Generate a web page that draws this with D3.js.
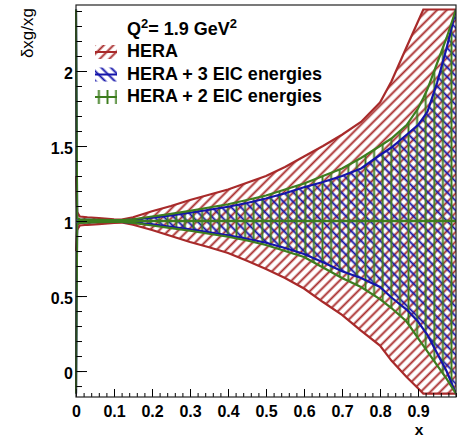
<!DOCTYPE html>
<html><head><meta charset="utf-8">
<script src="https://cdn.jsdelivr.net/npm/d3@7"></script>
<style>
body{margin:0;background:#fff}
svg{display:block}
text{font-family:"Liberation Sans",Arial,Helvetica,sans-serif;font-weight:bold;fill:#000}
</style>
</head><body>
<svg id="chart" width="461" height="438"></svg>
<script>
// ---- data ----
const xVals  = [0, 0.003, 0.01, 0.03, 0.06, 0.1, 0.12, 0.15, 0.2, 0.25, 0.3, 0.35, 0.4, 0.45, 0.5, 0.55, 0.6, 0.65, 0.7, 0.75, 0.8, 0.83, 0.87, 0.9, 0.914, 0.925, 0.95, 0.975, 1.0];
const heraUp = [1.3, 1.06, 1.03, 1.025, 1.02, 1.012, 1.01, 1.025, 1.065, 1.10, 1.14, 1.175, 1.21, 1.255, 1.30, 1.36, 1.43, 1.50, 1.575, 1.66, 1.79, 1.93, 2.16, 2.33, 2.41, 2.41, 2.41, 2.41, 2.41];
const heraLo = [0.8, 0.94, 0.97, 0.975, 0.98, 0.988, 0.99, 0.975, 0.94, 0.90, 0.86, 0.825, 0.787, 0.735, 0.68, 0.62, 0.55, 0.46, 0.375, 0.27, 0.17, 0.07, -0.04, -0.115, -0.15, -0.15, -0.15, -0.15, -0.15];
const eic3Up = [2.41, 1.015, 1.01, 1.008, 1.006, 1.005, 1.005, 1.01, 1.022, 1.038, 1.055, 1.075, 1.095, 1.12, 1.15, 1.185, 1.225, 1.26, 1.30, 1.35, 1.44, 1.49, 1.575, 1.64, 1.69, 1.73, 1.92, 2.15, 2.41];
const eic3Lo = [-0.15, 0.985, 0.99, 0.992, 0.994, 0.995, 0.995, 0.99, 0.978, 0.962, 0.945, 0.925, 0.905, 0.882, 0.855, 0.82, 0.78, 0.725, 0.665, 0.62, 0.56, 0.49, 0.41, 0.33, 0.28, 0.24, 0.12, 0.0, -0.15];
const eic2Up = [2.41, 1.02, 1.012, 1.01, 1.008, 1.006, 1.006, 1.012, 1.03, 1.048, 1.068, 1.09, 1.112, 1.14, 1.17, 1.21, 1.25, 1.30, 1.35, 1.42, 1.50, 1.55, 1.64, 1.75, 1.82, 1.88, 2.05, 2.22, 2.41];
const eic2Lo = [-0.15, 0.98, 0.988, 0.99, 0.992, 0.994, 0.994, 0.988, 0.97, 0.953, 0.935, 0.915, 0.895, 0.87, 0.84, 0.80, 0.76, 0.69, 0.62, 0.56, 0.48, 0.42, 0.33, 0.22, 0.17, 0.13, 0.04, -0.05, -0.15];
const centralValue = [1, 1];
const centralX = [0, 1];
const xTickVals = [0, 0.1, 0.2, 0.3, 0.4, 0.5, 0.6, 0.7, 0.8, 0.9];
const xTickLabels = ["0", "0.1", "0.2", "0.3", "0.4", "0.5", "0.6", "0.7", "0.8", "0.9"];
const yTickVals = [0, 0.5, 1, 1.5, 2];
const yTickLabels = ["0", "0.5", "1", "1.5", "2"];
const seriesNames = ["HERA", "HERA + 3 EIC energies", "HERA + 2 EIC energies"];
const xTitle = "x";
const yTitle = "δxg/xg";

// ---- layout ----
const L = 76, R = 456, T = 5, B = 397;
const svg = d3.select("#chart");
const x = d3.scaleLinear().domain([0, 1]).range([L, R]);
const y = d3.scaleLinear().domain([-0.173, 2.44]).range([B, T]);

const colors = {red: "#a82a2a", blue: "#1414aa", green: "#3d7d1e"};

const defs = svg.append("defs");
function hatch(id, color, angle, size, sw) {
  const p = defs.append("pattern").attr("id", id)
    .attr("patternUnits", "userSpaceOnUse")
    .attr("width", size).attr("height", size)
    .attr("patternTransform", `rotate(${angle})`);
  p.append("line").attr("x1", size / 2).attr("x2", size / 2)
    .attr("y1", -1).attr("y2", size + 1)
    .attr("stroke", color).attr("stroke-width", sw);
}
hatch("hRed", colors.red, 45, 6.8, 1.9);
hatch("hBlue", colors.blue, -45, 6.8, 1.9);
hatch("hGreen", colors.green, 0, 8.6, 1.9);

defs.append("clipPath").attr("id", "plotClip")
  .append("rect").attr("x", L - 1).attr("y", T).attr("width", R - L + 1).attr("height", B - T);

const plot = svg.append("g").attr("clip-path", "url(#plotClip)");

const bands = [
  {name: seriesNames[0], up: heraUp, lo: heraLo, color: colors.red, pat: "hRed"},
  {name: seriesNames[1], up: eic3Up, lo: eic3Lo, color: colors.blue, pat: "hBlue"},
  {name: seriesNames[2], up: eic2Up, lo: eic2Lo, color: colors.green, pat: "hGreen"}
];

const area = d3.area().x(d => x(d.x)).y0(d => y(d.lo)).y1(d => y(d.up));
const line = d3.line().x(d => x(d[0])).y(d => y(d[1]));

bands.forEach(b => {
  const pts = xVals.map((xv, i) => ({x: xv, up: b.up[i], lo: b.lo[i]}));
  plot.append("path").datum(pts).attr("d", area).attr("fill", `url(#${b.pat})`).attr("stroke", "none");
});
bands.forEach(b => {
  plot.append("path").datum(xVals.map((xv, i) => [xv, b.up[i]])).attr("d", line)
    .attr("fill", "none").attr("stroke", b.color).attr("stroke-width", 2.2);
  plot.append("path").datum(xVals.map((xv, i) => [xv, b.lo[i]])).attr("d", line)
    .attr("fill", "none").attr("stroke", b.color).attr("stroke-width", 2.2);
});
plot.append("path").datum(centralX.map((xv, i) => [xv, centralValue[i]])).attr("d", line)
  .attr("fill", "none").attr("stroke", colors.green).attr("stroke-width", 2.5);

// ---- axes ----
const xMinor = d3.range(0, 1.0001, 0.02);
const yMinor = d3.range(-0.1, 2.41, 0.1);

svg.append("g").attr("transform", `translate(0,${B})`)
  .call(d3.axisBottom(x).tickValues(xMinor).tickSize(-4).tickFormat(""))
  .call(g => { g.select(".domain").remove(); g.selectAll("line").attr("stroke", "#000"); });
svg.append("g").attr("transform", `translate(0,${B})`)
  .call(d3.axisBottom(x).tickValues(xTickVals).tickSize(-8).tickPadding(9)
    .tickFormat((d, i) => xTickLabels[i]))
  .call(g => {
    g.select(".domain").remove();
    g.selectAll("line").attr("stroke", "#000");
    g.selectAll("text").attr("font-size", 16).attr("font-family", null).style("font-weight", "bold");
  });

svg.append("g").attr("transform", `translate(${L},0)`)
  .call(d3.axisLeft(y).tickValues(yMinor).tickSize(-6).tickFormat(""))
  .call(g => { g.select(".domain").remove(); g.selectAll("line").attr("stroke", "#000"); });
svg.append("g").attr("transform", `translate(${L},0)`)
  .call(d3.axisLeft(y).tickValues(yTickVals).tickSize(-11).tickPadding(3)
    .tickFormat((d, i) => yTickLabels[i]))
  .call(g => {
    g.select(".domain").remove();
    g.selectAll("line").attr("stroke", "#000");
    g.selectAll("text").attr("font-size", 16).attr("font-family", null).attr("dy", "0.45em").style("font-weight", "bold");
  });

// frame
svg.append("rect").attr("x", L).attr("y", T).attr("width", R - L).attr("height", B - T)
  .attr("fill", "none").attr("stroke", "#222").attr("stroke-width", 1.2);

// axis titles
svg.append("text").attr("x", 419).attr("y", 434.5).attr("text-anchor", "middle")
  .attr("font-size", 15.5).text(xTitle);
svg.append("text").attr("transform", "translate(33,8) rotate(-90)").attr("text-anchor", "end")
  .attr("font-size", 17).style("font-weight", "normal").text(yTitle);

// ---- legend ----
const qt = svg.append("text").attr("x", 127).attr("y", 35).attr("font-size", 18);
qt.append("tspan").text("Q");
qt.append("tspan").attr("dy", -7).attr("font-size", 13).text("2");
qt.append("tspan").attr("dy", 7).text("= 1.9 GeV");
qt.append("tspan").attr("dy", -7).attr("font-size", 13).text("2");

const rowBase = [57, 79.5, 102];
bands.forEach((b, i) => {
  const yb = rowBase[i];
  svg.append("rect").attr("x", 95).attr("y", yb - 12).attr("width", 22).attr("height", 14)
    .attr("fill", `url(#${b.pat})`);
  svg.append("line").attr("x1", 95).attr("x2", 117).attr("y1", yb - 5).attr("y2", yb - 5)
    .attr("stroke", b.color).attr("stroke-width", 2);
  svg.append("text").attr("x", 127).attr("y", yb).attr("font-size", 18).text(b.name);
});
</script>
</body></html>
